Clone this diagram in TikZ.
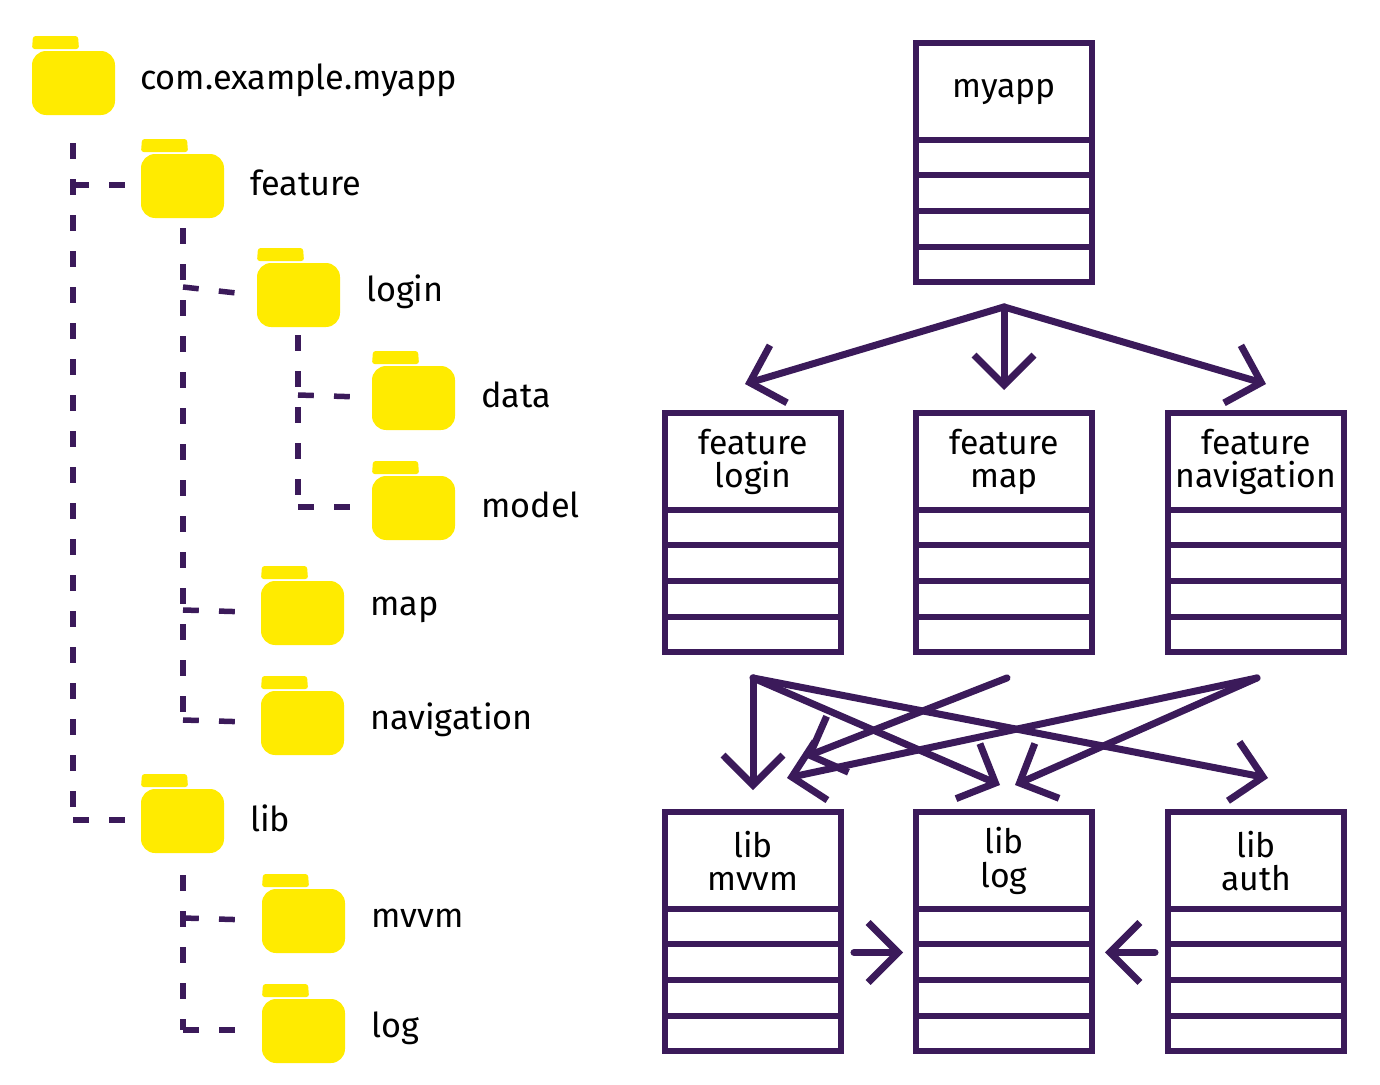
\documentclass[tikz,border=0pt]{standalone}
\usepackage{fontspec}
\setmainfont{Fira Sans}
\usetikzlibrary{arrows.meta,calc}
\definecolor{plum}{HTML}{3B1A5A}
\definecolor{folderyellow}{HTML}{FFEB00}
\newcommand{\folder}[3]{% name, x, y (left of body, centre)
  \fill[folderyellow,rounded corners=1.5pt] (#2,#3-33) -- (#2+1,#3-46) -- (#2+46,#3-46) -- (#2+47,#3-33) -- cycle;
  \fill[folderyellow,rounded corners=8pt] (#2,#3-31) rectangle (#2+83,#3+33);
  \coordinate (#1) at (#2,#3);
}
\newcommand{\modbox}[4]{% name, x, y of top centre, text
  \node[module,anchor=north] (#1) at (#2,#3) {};
  \foreach \d in {100,135,171,207}
    { \draw[wire] ($(#1.north west)+(0,\d)$) -- ($(#1.north east)+(0,\d)$); }
  \node[modtext,anchor=center] at ($(#1.north)+(0,52)$) {#4};
}
\begin{document}
\begin{tikzpicture}[x=0.02cm,y=-0.02cm,
    wire/.style={plum,line width=0.12cm},
    module/.style={draw=plum,line width=0.12cm,minimum width=3.52cm,minimum height=4.78cm,inner sep=0pt},
    modtext/.style={font=\fontsize{19.2}{19}\selectfont,align=center},
    dep/.style={plum,line width=0.14cm,line cap=round,-{Straight Barb[length=0.6cm,width=1.2cm,line width=0.14cm]}},
    tree/.style={plum,line width=0.11cm,dash pattern=on 9pt off 11.5pt},
    label/.style={font=\fontsize{19.5}{20}\selectfont,anchor=west}]
  \useasboundingbox (0,0) rectangle (1380,1085);

  % package tree
  \folder{root}{32}{82}      \node[label] at (134,80) {com.example.myapp};
  \folder{feature}{141}{185} \node[label] at (244,183) {feature};
  \folder{login}{257}{294}   \node[label] at (360,292) {login};
  \folder{data}{372}{397}    \node[label] at (475,395) {data};
  \folder{model}{372}{507}   \node[label] at (475,505) {model};
  \folder{map}{261}{612}     \node[label] at (364,610) {map};
  \folder{nav}{261}{722}     \node[label] at (364,720) {navigation};
  \folder{lib}{141}{820}     \node[label] at (244,818) {lib};
  \folder{mvvm}{262}{920}    \node[label] at (365,918) {mvvm};
  \folder{log}{262}{1030}    \node[label] at (365,1028) {log};

  \draw[tree] (73,143) -- (73,820);
  \draw[tree] (73,820) -- ($(lib)+(-12,0)$);
  \draw[tree] (73,185) -- ($(feature)+(-12,0)$);
  \draw[tree] (183,228) -- (183,720);
  \draw[tree] (183,720) -- ($(nav)+(-12,0)$);
  \draw[tree] (183,287) -- ($(login)+(-12,0)$);
  \draw[tree] (183,610) -- ($(map)+(-12,0)$);
  \draw[tree] (298,335) -- (298,507);
  \draw[tree] (298,507) -- ($(model)+(-12,0)$);
  \draw[tree] (298,395) -- ($(data)+(-12,0)$);
  \draw[tree] (183,875) -- (183,1030);
  \draw[tree] (183,1030) -- ($(log)+(-12,0)$);
  \draw[tree] (183,918) -- ($(mvvm)+(-12,0)$);

  % modules
  \modbox{myapp}{1004}{40}{myapp}
  \modbox{flogin}{753}{410}{feature\\login}
  \modbox{fmap}{1004}{410}{feature\\map}
  \modbox{fnav}{1256}{410}{feature\\navigation}
  \modbox{lmvvm}{753}{809}{lib\\mvvm}
  \modbox{llog}{1004}{809}{lib\\log}
  \modbox{lauth}{1256}{809}{lib\\auth}

  % dependencies
  \coordinate (s0) at ($(myapp.south)+(0,22)$);
  \draw[dep] (s0) -- ($(flogin.north)+(-8,-26)$);
  \draw[dep] (s0) -- ($(fmap.north)+(0,-20)$);
  \draw[dep] (s0) -- ($(fnav.north)+(10,-26)$);
  \coordinate (s1) at ($(flogin.south)+(0,23)$);
  \coordinate (s2) at ($(fmap.south)+(3,23)$);
  \coordinate (s3) at ($(fnav.south)+(1,23)$);
  \draw[dep] (s1) -- ($(lmvvm.north)+(0,-19)$);
  \draw[dep] (s1) -- ($(llog.north)+(-4,-24)$);
  \draw[dep] (s1) -- ($(lauth.north)+(12,-31)$);
  \draw[dep] (s2) -- ($(lmvvm.north)+(52,-52)$);
  \draw[dep] (s3) -- ($(lmvvm.north)+(34,-31)$);
  \draw[dep] (s3) -- ($(llog.north)+(11,-24)$);
  \draw[dep] ($(lmvvm.east)+(10,21)$) -- ($(llog.west)+(-10,21)$);
  \draw[dep] ($(lauth.west)+(-10,21)$) -- ($(llog.east)+(10,21)$);
\end{tikzpicture}
\end{document}
